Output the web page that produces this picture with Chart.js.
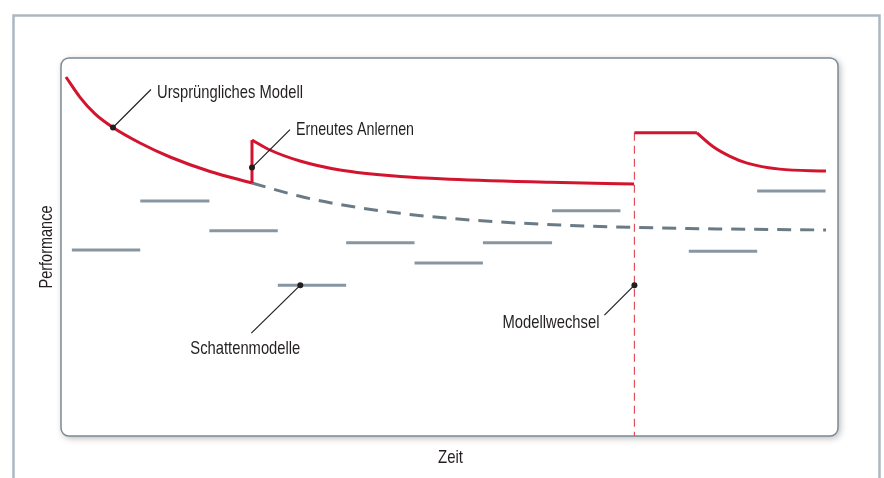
<!DOCTYPE html>
<html>
<head>
<meta charset="utf-8">
<script src="https://cdn.jsdelivr.net/npm/chart.js@4"></script>
<style>
  html, body { margin: 0; padding: 0; background: #fff; }
  #wrap { width: 884px; height: 478px; }
</style>
</head>
<body>
<div id="wrap"><canvas id="perfChart" width="884" height="478"></canvas></div>
<script>
// Zeit (x) und Performance (y), beide 0..100
const origTime = [0.64, 2.45, 4.38, 6.69, 10.17, 14.03, 19.18, 24.58];
const origPerf = [94.97, 89.6, 85.2, 81.61, 77.51, 73.81, 69.97, 66.93];

const retrainTime = [24.58, 26.9, 30.76, 35.91, 43.63, 50.06, 62.93, 73.75];
const retrainPerf = [78.31, 75.66, 72.75, 70.37, 68.65, 67.94, 67.12, 66.67];

const switchTime = 73.8;
const newFlatTime = [73.8, 81.85];
const newFlatPerf = [80.2, 80.2];
const newTime = [81.85, 83.9, 86.1, 88.3, 92.5, 98.45];
const newPerf = [80.2, 76.6, 74.0, 72.2, 70.6, 70.1];

const driftTime = [24.58, 30.76, 35.91, 43.63, 50.06, 56.5, 64.22, 74.13, 84.43, 98.46];
const driftPerf = [66.93, 63.41, 61.24, 58.91, 57.57, 56.61, 55.82, 55.16, 54.79, 54.5];

const shadowStart = [1.4, 10.2, 19.1, 27.9, 36.7, 45.5, 54.3, 63.2, 80.8, 89.6];
const shadowEnd   = [10.2, 19.1, 27.9, 36.7, 45.5, 54.3, 63.2, 72.0, 89.6, 98.4];
const shadowPerf  = [49.2, 62.2, 54.3, 39.9, 51.1, 45.8, 51.1, 59.6, 48.9, 64.8];

const noteLabels = ['Ursprüngliches Modell', 'Erneutes Anlernen', 'Schattenmodelle', 'Modellwechsel'];
const noteTime = [6.69, 24.58, 30.8, 73.8];
const notePerf = [81.61, 71.0, 39.9, 39.9];

const xTitle = 'Zeit';
const yTitle = 'Performance';

const RED = '#d3142f';
const FONT = '"Liberation Sans Narrow", "Liberation Sans", "DejaVu Sans Condensed", sans-serif';

function pts(xs, ys) {
    return xs.map((x, i) => ({ x: x, y: ys[i] }));
}

const shadowPts = [];
shadowStart.forEach((s, i) => {
    shadowPts.push({ x: s, y: shadowPerf[i] });
    shadowPts.push({ x: shadowEnd[i], y: shadowPerf[i] });
    shadowPts.push({ x: shadowEnd[i], y: null });
});

// leader line offsets and text placement for each note (pixels)
const noteStyle = [
    { dx: 38, dy: -38, tx: 44, ty: -30, align: 'left', w: 146 },
    { dx: 38, dy: -38, tx: 44, ty: -33, align: 'left', w: 118 },
    { dx: -49, dy: 48, tx: -55, ty: 69, align: 'center', w: 110 },
    { dx: -30, dy: 30, tx: -35, ty: 43, align: 'right', w: 97 }
];

function fitText(ctx, text, x, y, align, width) {
    ctx.save();
    const m = ctx.measureText(text).width;
    const s = Math.min(1, width / m);
    ctx.translate(x, y);
    ctx.scale(s, 1);
    ctx.textAlign = align;
    ctx.fillText(text, 0, 0);
    ctx.restore();
}

const framePlugin = {
    id: 'frame',
    beforeDraw(chart) {
        const ctx = chart.ctx;
        const a = chart.chartArea;
        ctx.save();
        // outer frame
        ctx.strokeStyle = '#a9b8c4';
        ctx.lineWidth = 2.5;
        ctx.beginPath();
        ctx.moveTo(13.5, 480);
        ctx.lineTo(13.5, 15.5);
        ctx.lineTo(879.5, 15.5);
        ctx.lineTo(879.5, 480);
        ctx.stroke();
        // plot box with shadow
        ctx.shadowColor = 'rgba(0,0,0,0.3)';
        ctx.shadowBlur = 7;
        ctx.shadowOffsetX = 2;
        ctx.shadowOffsetY = 2;
        ctx.fillStyle = '#fff';
        ctx.beginPath();
        ctx.roundRect(a.left, a.top, a.right - a.left, a.bottom - a.top, 8);
        ctx.fill();
        ctx.shadowColor = 'transparent';
        ctx.strokeStyle = '#7b8a95';
        ctx.lineWidth = 1.5;
        ctx.stroke();
        ctx.restore();
    },
    afterDraw(chart) {
        const ctx = chart.ctx;
        const xs = chart.scales.x, ys = chart.scales.y;
        const a = chart.chartArea;
        ctx.save();
        ctx.fillStyle = '#231f20';
        ctx.strokeStyle = '#231f20';
        ctx.font = '19px ' + FONT;
        ctx.textBaseline = 'alphabetic';
        noteLabels.forEach((label, i) => {
            const st = noteStyle[i];
            const px = xs.getPixelForValue(noteTime[i]);
            const py = ys.getPixelForValue(notePerf[i]);
            ctx.lineWidth = 1.2;
            ctx.beginPath();
            ctx.moveTo(px, py);
            ctx.lineTo(px + st.dx, py + st.dy);
            ctx.stroke();
            ctx.beginPath();
            ctx.arc(px, py, 3, 0, Math.PI * 2);
            ctx.fill();
            fitText(ctx, label, px + st.tx, py + st.ty, st.align, st.w);
        });
        // axis titles
        fitText(ctx, xTitle, (a.left + a.right) / 2 + 1, 463, 'center', 25);
        ctx.save();
        ctx.translate(52, (a.top + a.bottom) / 2);
        ctx.rotate(-Math.PI / 2);
        fitText(ctx, yTitle, 0, 0, 'center', 83);
        ctx.restore();
        ctx.restore();
    }
};

new Chart(document.getElementById('perfChart'), {
    type: 'scatter',
    data: {
        datasets: [
            { data: pts(origTime, origPerf), borderColor: RED, borderWidth: 3, cubicInterpolationMode: 'monotone' },
            { data: pts([24.58, 24.58], [66.93, 78.31]), borderColor: RED, borderWidth: 3 },
            { data: pts(retrainTime, retrainPerf), borderColor: RED, borderWidth: 3, cubicInterpolationMode: 'monotone' },
            { data: pts(newFlatTime, newFlatPerf), borderColor: RED, borderWidth: 3 },
            { data: pts(newTime, newPerf), borderColor: RED, borderWidth: 3, cubicInterpolationMode: 'monotone' },
            { data: pts([switchTime, switchTime], [80.2, 0]), borderColor: '#e0505a', borderWidth: 1.2, borderDash: [8, 5] },
            { data: pts(driftTime, driftPerf), borderColor: '#6b7b86', borderWidth: 3, borderDash: [14, 9], cubicInterpolationMode: 'monotone' },
            { data: shadowPts, borderColor: '#8896a1', borderWidth: 3, spanGaps: false }
        ].map(d => Object.assign({ showLine: true, pointRadius: 0, fill: false, borderCapStyle: 'butt' }, d))
    },
    options: {
        responsive: false,
        animation: false,
        events: [],
        layout: { padding: { left: 61, right: 46, top: 58, bottom: 42 } },
        plugins: { legend: { display: false }, tooltip: { enabled: false } },
        scales: {
            x: { type: 'linear', min: 0, max: 100, display: false },
            y: { type: 'linear', min: 0, max: 100, display: false }
        }
    },
    plugins: [framePlugin]
});
</script>
</body>
</html>
